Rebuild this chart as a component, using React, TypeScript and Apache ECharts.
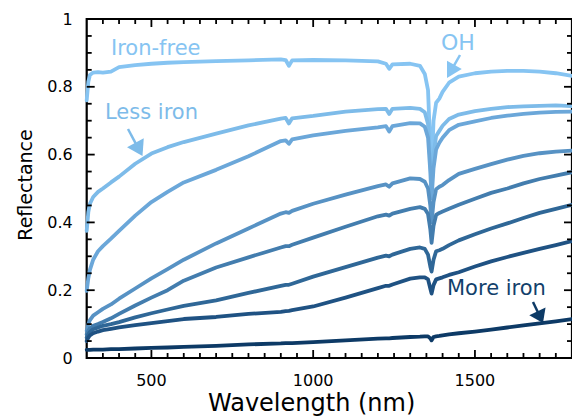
import React, { useEffect, useRef } from "react";
import * as echarts from "echarts";

// Wavelength samples (nm)
const wavelengths = [300, 305, 310, 320, 335, 350, 375, 400, 450, 500, 550, 600, 700, 800, 900, 915, 925, 935, 1000, 1100, 1200, 1225, 1235, 1245, 1300, 1330, 1345, 1355, 1362, 1366, 1372, 1380, 1390, 1400, 1420, 1450, 1500, 1550, 1600, 1650, 1700, 1750, 1800];

// Reflectance spectra, from iron-free to most iron
const ironFree = [0.76, 0.815, 0.835, 0.842, 0.843, 0.842, 0.845, 0.858, 0.864, 0.868, 0.871, 0.873, 0.876, 0.878, 0.881, 0.879, 0.862, 0.878, 0.879, 0.878, 0.875, 0.868, 0.853, 0.866, 0.868, 0.862, 0.838, 0.79, 0.62, 0.55, 0.70, 0.753, 0.765, 0.785, 0.812, 0.83, 0.84, 0.845, 0.847, 0.847, 0.845, 0.84, 0.832];
const lessIron = [0.375, 0.43, 0.455, 0.475, 0.49, 0.5, 0.518, 0.535, 0.573, 0.603, 0.622, 0.637, 0.662, 0.686, 0.706, 0.708, 0.692, 0.707, 0.714, 0.727, 0.734, 0.735, 0.72, 0.735, 0.738, 0.735, 0.725, 0.69, 0.58, 0.5, 0.6, 0.655, 0.67, 0.685, 0.705, 0.718, 0.728, 0.735, 0.74, 0.742, 0.744, 0.745, 0.743];
const sample3 = [0.198, 0.235, 0.26, 0.29, 0.315, 0.33, 0.352, 0.375, 0.42, 0.46, 0.49, 0.518, 0.555, 0.595, 0.64, 0.642, 0.632, 0.645, 0.657, 0.67, 0.68, 0.684, 0.668, 0.684, 0.693, 0.692, 0.682, 0.65, 0.55, 0.47, 0.56, 0.615, 0.635, 0.65, 0.672, 0.688, 0.698, 0.708, 0.715, 0.72, 0.724, 0.726, 0.727];
const sample4 = [0.08, 0.1, 0.112, 0.125, 0.135, 0.145, 0.158, 0.175, 0.205, 0.235, 0.262, 0.29, 0.338, 0.382, 0.426, 0.43, 0.428, 0.434, 0.455, 0.482, 0.507, 0.512, 0.505, 0.515, 0.53, 0.528, 0.52, 0.5, 0.45, 0.4, 0.46, 0.498, 0.505, 0.51, 0.525, 0.543, 0.558, 0.572, 0.585, 0.596, 0.604, 0.609, 0.612];
const sample5 = [0.07, 0.08, 0.088, 0.095, 0.1, 0.106, 0.117, 0.13, 0.155, 0.178, 0.2, 0.228, 0.267, 0.297, 0.326, 0.33, 0.33, 0.334, 0.355, 0.387, 0.418, 0.423, 0.42, 0.426, 0.44, 0.445, 0.44, 0.425, 0.38, 0.34, 0.39, 0.422, 0.428, 0.432, 0.44, 0.452, 0.47, 0.487, 0.5, 0.515, 0.528, 0.538, 0.548];
const sample6 = [0.06, 0.07, 0.077, 0.085, 0.09, 0.095, 0.1, 0.106, 0.12, 0.132, 0.143, 0.154, 0.17, 0.192, 0.213, 0.216, 0.216, 0.219, 0.24, 0.268, 0.296, 0.302, 0.3, 0.305, 0.322, 0.326, 0.322, 0.305, 0.27, 0.255, 0.29, 0.315, 0.318, 0.322, 0.333, 0.347, 0.365, 0.382, 0.397, 0.413, 0.428, 0.44, 0.452];
const sample7 = [0.05, 0.06, 0.067, 0.073, 0.078, 0.082, 0.086, 0.09, 0.097, 0.103, 0.109, 0.115, 0.121, 0.13, 0.136, 0.138, 0.139, 0.141, 0.152, 0.178, 0.206, 0.213, 0.213, 0.217, 0.234, 0.238, 0.238, 0.232, 0.205, 0.19, 0.215, 0.232, 0.235, 0.238, 0.245, 0.253, 0.27, 0.285, 0.298, 0.31, 0.322, 0.333, 0.345];
const moreIron = [0.024, 0.024, 0.024, 0.025, 0.025, 0.025, 0.026, 0.026, 0.028, 0.03, 0.031, 0.033, 0.036, 0.04, 0.043, 0.044, 0.044, 0.044, 0.047, 0.052, 0.057, 0.058, 0.058, 0.059, 0.062, 0.063, 0.064, 0.064, 0.058, 0.052, 0.062, 0.064, 0.065, 0.067, 0.07, 0.073, 0.078, 0.084, 0.09, 0.096, 0.102, 0.108, 0.115];

const seriesNames = ["Iron-free", "Less iron", "Sample 3", "Sample 4", "Sample 5", "Sample 6", "Sample 7", "More iron"];
const seriesValues = [ironFree, lessIron, sample3, sample4, sample5, sample6, sample7, moreIron];
const seriesColors = ["#86c4f2", "#7dbbe9", "#6ba7d9", "#5792c4", "#437dae", "#2f6797", "#1f5283", "#0d3a66"];

const xMajorTicks = [500, 1000, 1500];
const yMajorTicks = [0, 0.2, 0.4, 0.6, 0.8, 1];
const X_MIN = 300;
const X_MAX = 1800;
const X_MINOR_STEP = 50;
const Y_MINOR_STEP = 0.05;

const FONT = "DejaVu Sans";

function arrow(sx: number, sy: number, tx: number, ty: number, headLen: number, headW: number, color: string) {
  const dx = tx - sx;
  const dy = ty - sy;
  const len = Math.sqrt(dx * dx + dy * dy);
  const ux = dx / len;
  const uy = dy / len;
  const bx = tx - ux * headLen;
  const by = ty - uy * headLen;
  const px = -uy;
  const py = ux;
  return [
    {
      type: "line",
      shape: { x1: sx, y1: sy, x2: bx + ux * 2, y2: by + uy * 2 },
      style: { stroke: color, lineWidth: 2.5 },
      silent: true,
    },
    {
      type: "polygon",
      shape: {
        points: [
          [tx, ty],
          [bx + (px * headW) / 2, by + (py * headW) / 2],
          [bx - (px * headW) / 2, by - (py * headW) / 2],
        ],
      },
      style: { fill: color },
      silent: true,
    },
  ];
}

// Tick marks: [wavelength, reflectance, kind (0 = wavelength tick, 1 = reflectance tick), length]
const tickDefs: number[][] = [];
for (let k = 1; k < Math.round((X_MAX - X_MIN) / X_MINOR_STEP); k++) {
  const v = X_MIN + k * X_MINOR_STEP;
  tickDefs.push([v, 0.5, 0, v % 500 === 0 ? 8 : 5]);
}
for (let k = 1; k < Math.round(1 / Y_MINOR_STEP); k++) {
  tickDefs.push([1000, Math.round(k * Y_MINOR_STEP * 100) / 100, 1, k % 4 === 0 ? 8 : 5]);
}

export default function App() {
  const ref = useRef<HTMLDivElement>(null);

  useEffect(() => {
    if (!ref.current) return;
    const chart = echarts.init(ref.current, null, { renderer: "svg" });

    const graphics: any[] = [
      {
        type: "text",
        x: 25,
        y: 185,
        rotation: Math.PI / 2,
        style: { text: "Reflectance", fill: "#000", fontSize: 19, fontFamily: FONT, align: "center", verticalAlign: "middle" },
        z: 100,
      },
      {
        type: "text",
        x: 208,
        y: 403,
        style: { text: "Wavelength (nm)", fill: "#000", fontSize: 24, fontFamily: FONT, align: "left", verticalAlign: "middle" },
        z: 100,
      },
      {
        type: "text",
        x: 111,
        y: 48,
        style: { text: "Iron-free", fill: "#86c4f2", fontSize: 21, fontFamily: FONT, align: "left", verticalAlign: "middle" },
        z: 100,
      },
      {
        type: "text",
        x: 105,
        y: 111.5,
        style: { text: "Less iron", fill: "#7dbbe9", fontSize: 21, fontFamily: FONT, align: "left", verticalAlign: "middle" },
        z: 100,
      },
      {
        type: "text",
        x: 441,
        y: 42,
        style: { text: "OH", fill: "#86c4f2", fontSize: 22, fontFamily: FONT, align: "left", verticalAlign: "middle" },
        z: 100,
      },
      {
        type: "text",
        x: 447,
        y: 288,
        style: { text: "More iron", fill: "#123f6b", fontSize: 21, fontFamily: FONT, align: "left", verticalAlign: "middle" },
        z: 100,
      },
      ...arrow(128, 129, 142.5, 156, 15, 19, "#7dbbe9"),
      ...arrow(460, 55, 447, 78, 15, 17, "#86c4f2"),
      ...arrow(533, 302, 543, 323, 13, 18, "#0d3a66"),
    ];

    const tickSeries = {
      type: "custom",
      name: "ticks",
      silent: true,
      clip: false,
      z: 30,
      encode: { x: 0, y: 1 },
      renderItem: (params: any, api: any) => {
        const kind = api.value(2);
        const len = api.value(3);
        const pt = api.coord([api.value(0), api.value(1)]);
        const bottomLeft = api.coord([X_MIN, 0]);
        const topRight = api.coord([X_MAX, 1]);
        const style = { stroke: "#000", lineWidth: 1.8 };
        if (kind === 0) {
          const px = pt[0];
          return {
            type: "group",
            children: [
              { type: "line", shape: { x1: px, y1: bottomLeft[1], x2: px, y2: bottomLeft[1] - len }, style },
              { type: "line", shape: { x1: px, y1: topRight[1], x2: px, y2: topRight[1] + len }, style },
            ],
          };
        }
        const py = pt[1];
        return {
          type: "group",
          children: [
            { type: "line", shape: { x1: bottomLeft[0], y1: py, x2: bottomLeft[0] + len, y2: py }, style },
            { type: "line", shape: { x1: topRight[0], y1: py, x2: topRight[0] - len, y2: py }, style },
          ],
        };
      },
      data: tickDefs,
    };

    const option: any = {
      animation: false,
      backgroundColor: "#fff",
      grid: {
        left: 86.7,
        right: -3,
        top: 19,
        bottom: 59,
        containLabel: false,
        show: true,
        borderColor: "#000",
        borderWidth: 2.2,
        backgroundColor: "transparent",
      },
      xAxis: {
        type: "value",
        min: X_MIN,
        max: X_MAX,
        splitLine: { show: false },
        axisLine: { show: false },
        axisTick: { show: false },
        axisLabel: {
          show: true,
          customValues: xMajorTicks,
          fontSize: 16,
          fontFamily: FONT,
          color: "#000",
          margin: 14,
          formatter: (v: number) => String(v),
        },
      },
      yAxis: {
        type: "value",
        min: 0,
        max: 1,
        splitLine: { show: false },
        axisLine: { show: false },
        axisTick: { show: false },
        axisLabel: {
          show: true,
          customValues: yMajorTicks,
          fontSize: 16,
          fontFamily: FONT,
          color: "#000",
          margin: 14,
          formatter: (v: number) => String(Math.round(v * 10) / 10),
        },
      },
      series: [
        ...seriesValues.map((vals, i) => ({
          name: seriesNames[i],
          type: "line",
          showSymbol: false,
          symbol: "none",
          smooth: false,
          lineStyle: { color: seriesColors[i], width: 3.8, cap: "round", join: "round" },
          data: wavelengths.map((w, j) => [w, vals[j]]),
          z: 2 + i,
        })),
        tickSeries,
      ],
      graphic: graphics,
    };

    chart.setOption(option);
    return () => chart.dispose();
  }, []);

  return <div ref={ref} style={{ position: "fixed", left: 0, top: 0, width: 572, height: 417 }} />;
}
